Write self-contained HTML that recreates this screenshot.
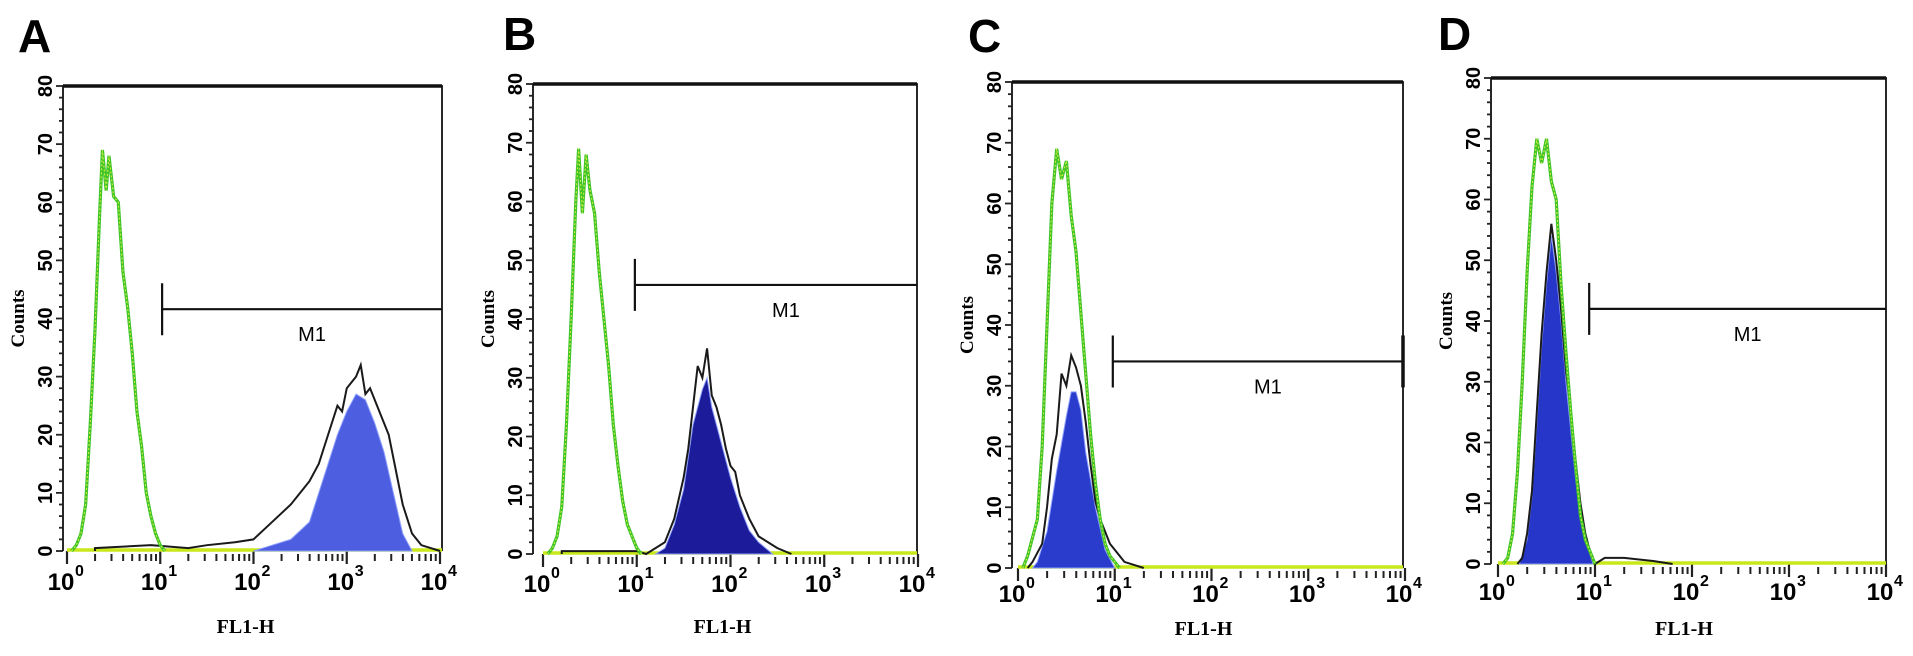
<!DOCTYPE html>
<html><head><meta charset="utf-8"><style>
html,body{margin:0;padding:0;background:#fff;width:1913px;height:656px;overflow:hidden}
svg{display:block}
.pl{font-family:"Liberation Sans",sans-serif;font-size:46px;font-weight:bold}
.yt{font-family:"Liberation Sans",sans-serif;font-size:20px;font-weight:bold}
.xt{font-family:"Liberation Sans",sans-serif;font-size:24px;font-weight:bold}
.xs{font-family:"Liberation Sans",sans-serif;font-size:16px;font-weight:bold}
.ser{font-family:"Liberation Serif",serif;font-weight:bold}
.m1{font-family:"Liberation Sans",sans-serif;font-size:20px}
</style></head><body>
<svg id="fig" width="1913" height="656" viewBox="0 0 1913 656"></svg>
<script>
// ---- data (log10 FL1-H, counts) ----
const panelLabels = ["A","B","C","D"];
const yTicks = [0,10,20,30,40,50,60,70,80];
const xTickExps = [0,1,2,3,4];
const gateLogStart = [1.02, 0.98, 0.98, 0.94];
const gateCount = [41.6, 45.8, 34, 42];
const ctrlA = [[0.05,0],[0.1,1],[0.15,3],[0.2,8],[0.25,22],[0.3,38],[0.35,58],[0.38,69],[0.42,62],[0.45,68],[0.5,61],[0.55,60],[0.6,48],[0.65,42],[0.7,34],[0.75,24],[0.8,18],[0.85,10],[0.9,6],[0.95,3],[1.0,1],[1.05,0]];
const ctrlB = [[0.05,0],[0.1,1],[0.15,3],[0.2,8],[0.25,22],[0.3,40],[0.35,60],[0.38,69],[0.42,58],[0.46,68],[0.5,62],[0.55,58],[0.6,48],[0.65,40],[0.7,32],[0.75,22],[0.8,15],[0.85,9],[0.9,5],[0.95,3],[1.0,1],[1.05,0]];
const ctrlC = [[0.05,0],[0.1,2],[0.2,8],[0.25,20],[0.3,40],[0.35,60],[0.4,69],[0.45,64],[0.5,67],[0.55,58],[0.6,52],[0.65,42],[0.7,32],[0.75,22],[0.8,14],[0.85,8],[0.9,4],[0.95,2],[1.0,1],[1.05,0]];
const ctrlD = [[0.05,0],[0.1,1],[0.15,5],[0.2,15],[0.25,30],[0.3,48],[0.35,62],[0.4,70],[0.45,66],[0.5,70],[0.55,63],[0.6,60],[0.65,46],[0.7,35],[0.75,25],[0.8,16],[0.85,8],[0.9,4],[0.95,2],[1.0,0]];
const sampleA = [[0.3,0.5],[0.9,1],[1.3,0.5],[1.5,1],[1.8,1.5],[2.0,2],[2.2,5],[2.4,8],[2.5,10],[2.6,12],[2.7,15],[2.8,20],[2.9,25],[2.95,24],[3.0,28],[3.1,30],[3.15,32],[3.2,27],[3.25,28],[3.3,26],[3.4,22],[3.45,20],[3.5,16],[3.6,8],[3.7,3],[3.8,1],[3.9,0.5],[4.0,0]];
const fillA = [[2.0,0],[2.2,1],[2.4,2],[2.6,5],[2.7,10],[2.8,15],[2.9,20],[3.0,24],[3.1,27],[3.2,26],[3.3,22],[3.4,17],[3.5,10],[3.6,3],[3.7,0]];
const sampleB = [[0.2,0.5],[1.0,0.5],[1.1,0],[1.2,1],[1.3,2],[1.4,6],[1.5,13],[1.55,18],[1.6,25],[1.65,32],[1.7,30],[1.75,35],[1.8,27],[1.85,25],[1.9,22],[1.95,18],[2.0,15],[2.05,14],[2.1,10],[2.2,6],[2.3,3],[2.4,2],[2.5,1],[2.65,0]];
const fillB = [[1.2,0],[1.3,1],[1.4,5],[1.5,11],[1.6,22],[1.7,28],[1.75,30],[1.8,25],[1.9,19],[2.0,13],[2.1,8],[2.2,4],[2.3,2],[2.45,0]];
const sampleC = [[0.1,0],[0.15,1],[0.25,4],[0.3,10],[0.35,18],[0.4,22],[0.45,32],[0.5,30],[0.55,35],[0.6,33],[0.65,30],[0.7,24],[0.75,17],[0.8,11],[0.85,8],[0.9,6],[0.95,4],[1.0,3],[1.1,1],[1.2,0.5],[1.3,0]];
const fillC = [[0.15,0],[0.2,1],[0.3,6],[0.4,16],[0.5,25],[0.55,29],[0.6,29],[0.65,26],[0.7,19],[0.8,10],[0.9,3],[1.0,0]];
const sampleD = [[0.2,0],[0.25,1],[0.3,5],[0.35,12],[0.4,25],[0.45,38],[0.5,48],[0.55,56],[0.6,50],[0.65,42],[0.7,32],[0.75,25],[0.8,17],[0.85,10],[0.9,5],[0.95,2],[1.0,0],[1.1,1],[1.3,1],[1.6,0.5],[1.8,0]];
const fillD = [[0.22,0],[0.3,4],[0.35,11],[0.4,23],[0.45,36],[0.5,46],[0.55,54],[0.6,48],[0.65,40],[0.7,30],[0.75,22],[0.8,14],[0.85,8],[0.9,4],[0.98,0]];
const controls = [ctrlA, ctrlB, ctrlC, ctrlD];
const samples = [sampleA, sampleB, sampleC, sampleD];
const fills = [fillA, fillB, fillC, fillD];
const fillColors = ["#4d5fe0","#1c1c9a","#2a3ccc","#2636c8"];

// ---- layout (geometry, not data) ----
const frames = [
 {x0:67,x1:440,axis:63,right:442,top:86,zero:551,letter:[18,52],fl:633,tl:590},
 {x0:543,x1:918,axis:533,right:917,top:84,zero:554,letter:[503,50],fl:633,tl:592},
 {x0:1018,x1:1405,axis:1012,right:1403,top:82,zero:568,letter:[968,52],fl:635,tl:602},
 {x0:1498,x1:1886,axis:1491,right:1886,top:78,zero:564,letter:[1438,50],fl:635,tl:600}
];
const NS="http://www.w3.org/2000/svg";
const svg=document.getElementById('fig');
function mk(tag,attrs,parent,text){const e=document.createElementNS(NS,tag);for(const k in attrs)e.setAttribute(k,attrs[k]);if(text!==undefined)e.textContent=text;(parent||svg).appendChild(e);return e;}
function linePath(pts,sx,sy){let d=`M${sx(pts[0][0])},${sy(0)}`;pts.forEach(p=>{d+=` L${sx(p[0])},${sy(p[1])}`;});d+=` L${sx(pts[pts.length-1][0])},${sy(0)}`;return d;}

frames.forEach((f,i)=>{
  const g=mk('g',{});
  
  
  const sx=v=>f.x0+(f.x1-f.x0)*v/4;
  const sy=v=>f.zero-(f.zero-f.top)*v/80;
  const L=mk('text',{x:f.letter[0],y:f.letter[1],class:'pl'},g,panelLabels[i]);
  
  const fr=mk('path',{d:`M${f.axis},${f.zero} L${f.axis},${f.top} L${f.right},${f.top} L${f.right},${f.zero}`,fill:'none',stroke:'#111','stroke-width':1.8},g);
  
  mk('line',{x1:f.axis,y1:f.top,x2:f.right,y2:f.top,stroke:'#111','stroke-width':3.5},g);
  for(let v=0;v<=80;v+=2){const y=sy(v);mk('line',{x1:f.axis-(v%10===0?7:4),y1:y,x2:f.axis,y2:y,stroke:'#222','stroke-width':1.8},g);}
  yTicks.forEach(v=>{const y=sy(v);const t=mk('text',{x:0,y:0,class:'yt',transform:`translate(${f.axis-11},${y}) rotate(-90)`,'text-anchor':'middle'},g,String(v));
    });
  const ct=mk('text',{x:0,y:0,class:'ser','font-size':'19',transform:`translate(${f.axis-39},${sy(40)}) rotate(-90)`,'text-anchor':'middle'},g,'Counts');
  
  for(let d=0;d<4;d++)for(let k=2;k<=9;k++){const x=sx(d+Math.log10(k));mk('line',{x1:x,y1:f.zero+3,x2:x,y2:f.zero+10,stroke:'#222','stroke-width':2},g);}
  xTickExps.forEach(e=>{const x=sx(e);mk('line',{x1:x,y1:f.zero,x2:x,y2:f.zero+13,stroke:'#222','stroke-width':2.2},g);
    const t=mk('text',{x:x-6,y:f.tl,class:'xt','text-anchor':'middle'},g,'10');
    
    mk('text',{x:x+8,y:f.tl-14,class:'xs','text-anchor':'start'},g,String(e));});
  const fl=mk('text',{x:(f.x0+f.x1)/2-8,y:f.fl,class:'ser','font-size':'20','text-anchor':'middle'},g,'FL1-H');
  
  mk('line',{x1:f.x0,y1:f.zero-1,x2:f.right,y2:f.zero-1,stroke:'#c8e81a','stroke-width':3.5},g);
  const fp=mk('path',{d:linePath(fills[i],sx,sy)+' Z',fill:fillColors[i],stroke:'#8fa0ff','stroke-width':1},g);
  
  const sp=mk('path',{d:linePath(samples[i],sx,sy),fill:'none',stroke:'#1a1a1a','stroke-width':2},g);
  
  const cp=mk('path',{d:linePath(controls[i],sx,sy),fill:'none',stroke:'#3fc42a','stroke-width':3.2},g);
  
  mk('path',{d:linePath(controls[i],sx,sy),fill:'none',stroke:'#d8f03a','stroke-width':1,'stroke-dasharray':'2 2'},g);
  const gx=sx(gateLogStart[i]),gy=sy(gateCount[i]);
  const gl=mk('path',{d:`M${gx},${gy-26} L${gx},${gy+26} M${gx},${gy} L${f.right},${gy}`,stroke:'#111','stroke-width':2.2,fill:'none'},g);
  
  if(i===2)mk('line',{x1:f.right,y1:gy-26,x2:f.right,y2:gy+26,stroke:'#111','stroke-width':3.5},g);
  const mt=mk('text',{x:(gx+f.right)/2+10,y:gy+32,class:'m1','text-anchor':'middle'},g,'M1');
  
});
</script>
</body></html>
